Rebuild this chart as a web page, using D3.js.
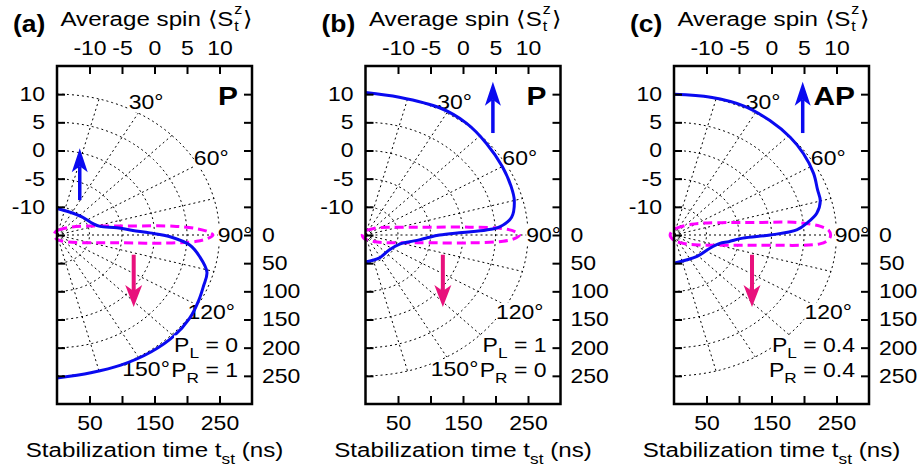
<!DOCTYPE html>
<html lang="en">
<head>
<meta charset="utf-8">
<title>Stabilization time polar plots</title>
<script src="https://cdn.jsdelivr.net/npm/d3@7"></script>
<style>
  body { margin: 0; background: #fff; }
  text { font-family: "Liberation Sans", Arial, Helvetica, sans-serif; fill: #000; }
</style>
</head>
<body>
<script>
var width = 923, height = 472;

// panel texts
var panelNames = ["(a)", "(b)", "(c)"];
var stateNames = ["P", "P", "AP"];
var polLeft = ["0", "1", "0.4"];
var polRight = ["1", "0", "0.4"];

// axis ticks
var spinTicks = [-10, -5, 0, 5, 10];
var leftTicks = [10, 5, 0, -5, -10, -15, -20, -25, -30, -35, -40];
var rightTicks = [-250, -200, -150, -100, -50, 0, 50, 100, 150, 200, 250];
var timeTicks = [50, 100, 150, 200, 250];
var timeLabels = [50, 150, 250];

// polar grid
var gridRadii = [50, 100, 150, 200, 250];
var gridAngles = [0, 15, 30, 45, 60, 75, 90, 105, 120, 135, 150, 165, 180];
// in (c) the 150 degree label sits under the P_R box
var angleLabelsA = [30, 60, 90, 120, 150];
var angleLabelsB = [30, 60, 90, 120, 150];
var angleLabelsC = [30, 60, 90, 120];

// blue solid curves: angle (deg) and stabilization time (ns)
var blueThetaA = [0, 25, 50, 70, 77, 82, 86, 88.5, 91, 95, 100, 106, 112, 118, 126, 135, 145, 157, 168, 180];
var blueRA     = [47, 45, 50, 59, 68, 93, 117, 143, 174, 205, 223, 240, 243, 247, 252, 254, 253, 251, 250, 254];
var blueThetaB = [0, 12, 27, 38, 49, 60, 69, 75, 82, 86, 87.3, 88.3, 90, 93, 96, 100, 107, 126, 152, 180];
var blueRB     = [253, 250, 253, 252, 247, 243, 240, 237, 227, 207, 186, 149, 114, 95, 83, 69, 55, 45, 46, 48];
var blueThetaC = [0, 13, 25, 36, 46, 54, 63, 70, 75, 80, 84, 87.3, 90, 93, 98, 102, 113, 137, 180];
var blueRC     = [250, 251, 253, 251, 249, 246, 241, 235, 233, 223, 206, 189, 148, 106, 85, 72, 60, 52, 50];

// magenta dashed closed curves: angle (deg) and time (ns)
var magThetaA = [0, 15, 35, 55, 70, 78, 82, 85, 87, 88.5, 90, 91.5, 93, 95, 98, 102, 110, 125, 145, 165, 180, 270];
var magRA     = [8, 9, 13, 24, 46, 77, 115, 180, 215, 232, 240, 232, 215, 165, 100, 67, 40, 22, 13, 9, 8, 5];
var magThetaB = [0, 15, 35, 55, 70, 78, 82, 85, 87, 88.5, 90, 91.5, 93, 95, 98, 102, 110, 125, 145, 165, 180, 270];
var magRB     = [8, 9, 12, 22, 40, 67, 100, 160, 212, 230, 237, 230, 212, 160, 100, 67, 40, 22, 12, 9, 8, 5];
var magThetaC = [0, 15, 35, 55, 65, 75, 80, 83, 86, 88, 90, 92, 94, 97, 100, 105, 115, 130, 150, 165, 180, 270];
var magRC     = [10, 12, 18, 33, 50, 85, 127, 185, 225, 238, 241, 238, 225, 150, 104, 70, 42, 25, 15, 12, 10, 6];

// arrows in spin units: x, tail y, tip y
var blueArrowX    = [-11.5, 4.6, 4.8];
var blueArrowTail = [-8.8, 3.1, 3.1];
var blueArrowTip  = [0.4, 12.2, 12.2];
var magArrowX     = [-3.2, -3.1, -3.0];
var magArrowTail  = [-18.5, -18.5, -18.5];
var magArrowTip   = [-27.8, -27.8, -27.8];

var blueThetas = [blueThetaA, blueThetaB, blueThetaC];
var blueRs = [blueRA, blueRB, blueRC];
var magThetas = [magThetaA, magThetaB, magThetaC];
var magRs = [magRA, magRB, magRC];
var angleLabelSets = [angleLabelsA, angleLabelsB, angleLabelsC];

var BLUE = "#0a0af0", MAGENTA = "#ff00ff", PINK = "#e8117c";
var frameTop = 66, frameBottom = 404, frameW = 195;
var SX = 1.15; // the original figure is stretched sideways, text included

var svg = d3.select("body").append("svg")
    .attr("width", width)
    .attr("height", height);

for (var i = 0; i < 3; i++) drawPanel(i);

function toRad(d){ return d * Math.PI / 180; }

// text placed at (x,y) and widened like the original
function stext(parent, x, y, size){
    return parent.append("text")
        .attr("transform", "translate(" + x + "," + y + ") scale(" + SX + ",1)")
        .style("font-size", size + "px");
}

function drawPanel(i){
    var left = 57 + i * 308.5;
    var right = left + frameW;
    var g = svg.append("g");

    var xT = d3.scaleLinear().domain([0, 300]).range([left, right]);
    var yT = d3.scaleLinear().domain([-300, 300]).range([frameBottom, frameTop]);
    var xS = d3.scaleLinear().domain([-15, 15]).range([left, right]);
    var yS = d3.scaleLinear().domain([-45, 15]).range([frameBottom, frameTop]);
    var yR = d3.scaleLinear().domain([-300, 300]).range([frameTop, frameBottom]);

    function polar(th, r){
        return [xT(r * Math.sin(toRad(th))), yT(r * Math.cos(toRad(th)))];
    }

    // grid
    var grid = g.append("g")
        .attr("fill", "none")
        .attr("stroke", "#000")
        .attr("stroke-width", 1)
        .attr("stroke-dasharray", "2,3");
    gridRadii.forEach(function(R){
        var pts = d3.range(0, 180.01, 2).map(function(a){ return polar(a, R); });
        grid.append("path").attr("d", d3.line()(pts));
    });
    gridAngles.forEach(function(a){
        grid.append("path").attr("d", d3.line()([polar(a, 0), polar(a, 250)]));
    });

    // angle labels
    angleLabelSets[i].forEach(function(a){
        var p = polar(a, 274);
        addBoxed(g, stext(g, p[0], p[1], 20)
            .attr("dy", "0.36em")
            .attr("text-anchor", "middle")
            .text(a + "°"));
    });

    // magenta dashed curve
    var magPts = magThetas[i].map(function(t, k){ return polar(t, magRs[i][k]); });
    g.append("path")
        .attr("d", d3.line().curve(d3.curveCatmullRomClosed.alpha(0.5))(magPts))
        .attr("fill", "none")
        .attr("stroke", MAGENTA)
        .attr("stroke-width", 3)
        .attr("stroke-dasharray", "9,5");

    // blue curve
    var bluePts = blueThetas[i].map(function(t, k){ return polar(t, blueRs[i][k]); });
    g.append("path")
        .attr("d", d3.line().curve(d3.curveCatmullRom.alpha(0.5))(bluePts))
        .attr("fill", "none")
        .attr("stroke", BLUE)
        .attr("stroke-width", 3);

    // arrows
    drawArrow(g, xS(blueArrowX[i]), yS(blueArrowTail[i]), yS(blueArrowTip[i]), BLUE, 24, 8, 6, 3.5);
    drawArrow(g, xS(magArrowX[i]), yS(magArrowTail[i]), yS(magArrowTip[i]), PINK, 22, 8.5, 6, 4);

    // state label
    stext(g, right - 14, 105, 26)
        .attr("text-anchor", "end")
        .style("font-weight", "bold")
        .text(stateNames[i]);

    // polarisation labels
    [["L", polLeft[i], 352], ["R", polRight[i], 377]].forEach(function(d){
        var t = stext(g, right - 14, d[2], 20).attr("text-anchor", "end");
        t.append("tspan").text("P");
        t.append("tspan").attr("dy", 6).style("font-size", "15px").text(d[0]);
        t.append("tspan").attr("dy", -6).text(" = " + d[1]);
        addBoxed(g, t);
    });

    // frame
    g.append("rect")
        .attr("x", left).attr("y", frameTop)
        .attr("width", frameW).attr("height", frameBottom - frameTop)
        .attr("fill", "none")
        .attr("stroke", "#000")
        .attr("stroke-width", 2.5);

    var fmt = function(d){ return String(d); };
    styleAxis(g.append("g").attr("transform", "translate(0," + frameTop + ")")
        .call(d3.axisTop(xS).tickValues(spinTicks).tickSize(-8).tickPadding(11).tickFormat(fmt)));
    styleAxis(g.append("g").attr("transform", "translate(0," + frameBottom + ")")
        .call(d3.axisBottom(xT).tickValues(timeTicks).tickSize(-8).tickPadding(12)
            .tickFormat(function(d){ return timeLabels.indexOf(d) >= 0 ? String(d) : ""; })));
    styleAxis(g.append("g").attr("transform", "translate(" + left + ",0)")
        .call(d3.axisLeft(yS).tickValues(leftTicks).tickSize(-8).tickPadding(12)
            .tickFormat(function(d){ return spinTicks.indexOf(d) >= 0 ? String(d) : ""; })));
    styleAxis(g.append("g").attr("transform", "translate(" + right + ",0)")
        .call(d3.axisRight(yR).tickValues(rightTicks).tickSize(-8).tickPadding(10)
            .tickFormat(function(d){ return d >= 0 ? String(d) : ""; })));

    // panel letter
    stext(g, left - 44, 32, 23)
        .style("font-weight", "bold")
        .text(panelNames[i]);

    // top title: Average spin <S_t^z>
    var cx = (left + right) / 2 + 2;
    var tg = g.append("g");
    var t1 = tg.append("text").attr("y", 26).style("font-size", "21px").text("Average spin ⟨S");
    var w1 = t1.node().getComputedTextLength();
    var tz = tg.append("text").attr("x", w1 + 1).attr("y", 14).style("font-size", "14px").text("z");
    var tt = tg.append("text").attr("x", w1 + 1).attr("y", 31).style("font-size", "14px").text("t");
    var wz = Math.max(tz.node().getComputedTextLength(), tt.node().getComputedTextLength());
    var t2 = tg.append("text").attr("x", w1 + wz + 2).attr("y", 26).style("font-size", "21px").text("⟩");
    var total = w1 + wz + 2 + t2.node().getComputedTextLength();
    tg.attr("transform", "translate(" + (cx - total * SX / 2) + ",0) scale(" + SX + ",1)");

    // bottom title
    var bt = stext(g, (left + right) / 2, 457, 21).attr("text-anchor", "middle");
    bt.append("tspan").text("Stabilization time t");
    bt.append("tspan").attr("dy", 7).style("font-size", "15px").text("st");
    bt.append("tspan").attr("dy", -7).text(" (ns)");
}

function styleAxis(ax){
    ax.select(".domain").remove();
    ax.selectAll(".tick line").attr("stroke", "#000").attr("stroke-width", 2);
    ax.selectAll(".tick text").each(function(){
        var t = d3.select(this);
        var x = +t.attr("x") || 0, y = +t.attr("y") || 0;
        t.attr("x", null).attr("y", null)
            .attr("transform", "translate(" + x + "," + y + ") scale(" + SX + ",1)")
            .style("font-size", "20px")
            .style("font-family", "'Liberation Sans', Arial, sans-serif")
            .attr("fill", "#000");
    });
}

function addBoxed(g, t){
    var b = t.node().getBBox();
    g.insert("rect", function(){ return t.node(); })
        .attr("transform", t.attr("transform"))
        .attr("x", b.x).attr("y", b.y + 2)
        .attr("width", b.width).attr("height", b.height - 3)
        .attr("fill", "#fff");
}

function drawArrow(g, x, y0, y1, color, headLen, hw, notch, sw){
    var dir = y1 > y0 ? 1 : -1;
    var base = y1 - dir * headLen;
    var notchY = base + dir * notch;
    g.append("line")
        .attr("x1", x).attr("y1", y0)
        .attr("x2", x).attr("y2", notchY)
        .attr("stroke", color)
        .attr("stroke-width", sw);
    g.append("path")
        .attr("d", "M" + x + "," + y1 + "L" + (x - hw) + "," + base + "L" + x + "," + notchY + "L" + (x + hw) + "," + base + "Z")
        .attr("fill", color);
}
</script>
</body>
</html>
